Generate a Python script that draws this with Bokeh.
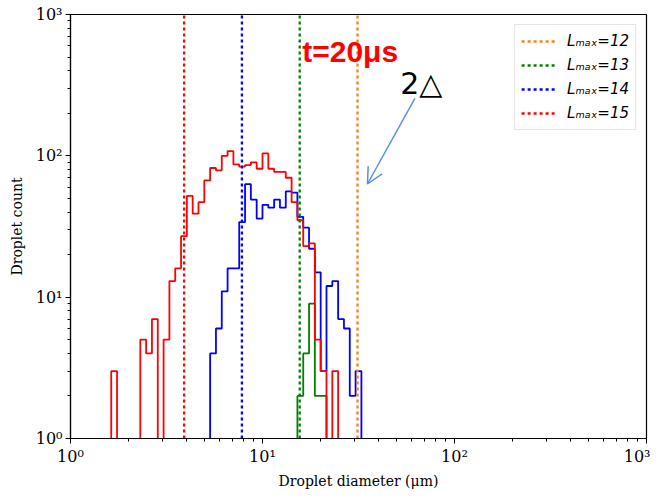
import numpy as np
from bokeh.plotting import figure
from bokeh.models import (Label, Arrow, OpenHead, Legend, LegendItem,
                          FixedTicker, Range1d)
from bokeh.embed import file_html
from bokeh.resources import INLINE

# ---------------- data ----------------
# histogram bins: 99 log-spaced bins between 1 and 1000 um
bin_edges = np.logspace(0, 3, 100)

# Lmax=15 (red) counts, starting at bin index red_start
red_start = 7
red_counts = [3, 0, 0, 0, 0, 5, 4, 7, 0, 5, 13, 16, 27, 52, 39, 47, 67, 82, 79,
              100, 108, 87, 84, 86, 90, 81, 104, 81, 77, 77, 70, 47, 35, 23, 24,
              5, 3, 0, 3]

# Lmax=14 (blue)
blue_start = 24
blue_counts = [4, 6, 11, 16, 16, 34, 63, 49, 36, 45, 43, 49, 43, 56, 55, 37, 31,
               22, 15, 3, 12, 13, 7, 6, 2, 3]

# Lmax=13 (green)
green_start = 39
green_counts = [2, 4, 9, 2, 2]

# 2*Delta resolution lines
lmax_levels = [12, 13, 14, 15]
two_delta = [31.25, 15.625, 7.8125, 3.90625]
lmax_colors = ["#ff7f0e", "#008000", "#0000ff", "#ff0000"]

x_ticks = [1, 10, 100, 1000]
y_ticks = [1, 10, 100, 1000]
tick_labels = ["10\u2070", "10\u00b9", "10\u00b2", "10\u00b3"]

FLOOR = 1e-3  # stands in for zero counts on the log axis (below view)


def step_path(start, counts):
    n = len(counts)
    e = bin_edges[start:start + n + 1]
    xs, ys = [e[0]], [FLOOR]
    for i, c in enumerate(counts):
        v = c if c > 0 else FLOOR
        xs += [e[i], e[i + 1]]
        ys += [v, v]
    xs.append(e[n])
    ys.append(FLOOR)
    return xs, ys


p = figure(x_axis_type="log", y_axis_type="log",
           x_range=Range1d(x_ticks[0], x_ticks[-1]),
           y_range=Range1d(y_ticks[0], y_ticks[-1]),
           frame_width=576, frame_height=424,
           min_border_left=70, min_border_right=4,
           min_border_top=14, min_border_bottom=47,
           output_backend="svg", toolbar_location=None)

p.background_fill_color = "white"
p.border_fill_color = "white"
p.outline_line_color = "black"
p.outline_line_width = 1.2
p.outline_line_alpha = 1.0
p.xgrid.visible = False
p.ygrid.visible = False

minor = [m * d for d in [1, 10, 100] for m in range(2, 10)]
for ax, ticks in ((p.xaxis, x_ticks), (p.yaxis, y_ticks)):
    ax.ticker = FixedTicker(ticks=ticks, minor_ticks=minor)
    ax.major_label_overrides = {t: lab for t, lab in zip(ticks, tick_labels)}
    ax.major_label_text_font = "DejaVu Serif"
    ax.major_label_text_font_size = "16px"
    ax.major_label_text_color = "black"
    ax.axis_label_text_font = "DejaVu Serif"
    ax.axis_label_text_font_size = "14px"
    ax.axis_label_text_font_style = "normal"
    ax.axis_label_text_color = "black"
    ax.axis_line_color = "black"
    ax.axis_line_width = 1.2
    ax.major_tick_in = 0
    ax.major_tick_out = 5
    ax.minor_tick_in = 0
    ax.minor_tick_out = 3
    ax.major_tick_line_color = "black"
    ax.minor_tick_line_color = "black"
    ax.major_label_standoff = 3

p.xaxis.axis_label = "Droplet diameter (\u03bcm)"
p.yaxis.axis_label = "Droplet count"
p.xaxis.axis_label_standoff = 4
p.yaxis.axis_label_standoff = 8

# histograms
for start, counts, col in ((green_start, green_counts, "#008000"),
                           (blue_start, blue_counts, "#0000ff"),
                           (red_start, red_counts, "#ff0000")):
    xs, ys = step_path(start, counts)
    p.line(xs, ys, line_color=col, line_width=1.8)

# vertical 2*Delta lines (full height) + legend
items = []
for lv, xv, col in zip(lmax_levels, two_delta, lmax_colors):
    r = p.line([xv, xv], [y_ticks[0], y_ticks[-1]], line_color=col,
               line_width=2.3, line_dash="3 3")
    items.append(LegendItem(label="L\u2098\u2090\u2093=%d" % lv, renderers=[r]))

legend = Legend(items=items, location="top_right", margin=10,
                padding=6, spacing=4, label_height=20, glyph_height=20,
                glyph_width=34, label_standoff=12,
                label_text_font="DejaVu Sans", label_text_font_style="italic",
                label_text_font_size="15px", label_text_color="black",
                border_line_color="#cccccc", border_line_width=1,
                background_fill_color="white", background_fill_alpha=0.9)
p.add_layout(legend)

# annotations
p.add_layout(Label(x=16.1, y=550, text="t=20\u03bcs", text_color="#ff0000",
                   text_font="Liberation Sans", text_font_style="bold",
                   text_font_size="30px", text_baseline="alphabetic"))
p.add_layout(Label(x=52.1, y=324, text="2\u25b3", text_color="black",
                   text_font="DejaVu Sans", text_font_size="30px",
                   text_baseline="alphabetic"))
p.add_layout(Arrow(end=OpenHead(size=16, line_color="#5b90e6", line_width=1.5),
                   x_start=62.2, y_start=255, x_end=35.2, y_end=63.2,
                   line_color="#5b90e6", line_width=1.5))

open("out.html", "w").write(file_html(p, INLINE))
